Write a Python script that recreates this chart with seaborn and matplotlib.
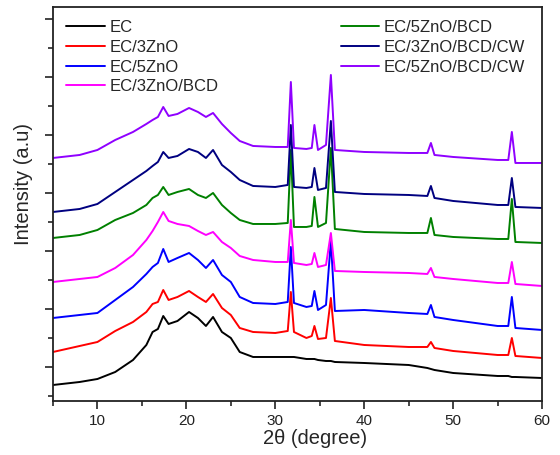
# XRD patterns of EC films with ZnO / BCD / CW, stacked with offsets

import pandas as pd
import matplotlib
matplotlib.use('Agg')
import matplotlib.pyplot as plt
from matplotlib.ticker import MultipleLocator
import seaborn as sns

# 2-theta sampling points (degree)
two_theta = [5, 8, 10, 12, 14, 15.5, 16.2, 16.8, 17.4, 18, 19, 20.3, 21.3, 22.2, 23,
             24, 25, 26, 27.5, 30, 31.4, 31.75, 32.1, 33.5, 34.1, 34.4, 34.8, 35.7,
             36.25, 36.7, 40, 45, 47.1, 47.5, 47.9, 50, 55, 56.2, 56.6, 57.0, 60]

# intensities (a.u., already offset as plotted)
ec = [16, 19, 22, 29, 41, 56, 69, 72, 85, 77, 80, 89, 83, 75, 84, 69, 63, 49, 44, 44,
      44, 44, 44, 42, 42, 42, 41, 40, 40, 39, 38, 36, 33, 32, 31, 28, 25, 25, 24, 24, 23]
ec_3zno = [49, 55, 59, 70, 79, 89, 97, 99, 111, 101, 104, 110, 104, 99, 107, 93, 86, 73, 69, 68,
           70, 109, 69, 63, 65, 75, 62, 63, 103, 60, 56, 54, 54, 59, 53, 50, 46, 46, 63, 45, 43]
ec_5zno = [83, 86, 88, 101, 114, 127, 134, 138, 152, 139, 143, 148, 141, 133, 141, 126, 119, 104, 98, 97,
           99, 154, 98, 94, 95, 110, 91, 96, 160, 90, 91, 88, 87, 96, 84, 81, 75, 75, 104, 73, 71]
ec_3zno_bcd = [119, 122, 124, 133, 146, 161, 170, 179, 189, 180, 177, 175, 170, 166, 169, 159, 153, 145, 141, 139,
               139, 181, 138, 136, 137, 148, 134, 136, 168, 130, 129, 128, 127, 133, 124, 122, 118, 118, 139, 117, 115]
ec_5zno_bcd = [163, 166, 171, 181, 188, 196, 203, 206, 214, 206, 209, 212, 206, 203, 208, 196, 188, 181, 177, 177,
               178, 251, 174, 174, 175, 204, 174, 178, 253, 172, 169, 168, 168, 183, 166, 164, 162, 162, 202, 159, 158]
ec_3zno_bcd_cw = [189, 192, 197, 209, 221, 230, 235, 239, 249, 243, 245, 252, 249, 243, 251, 236, 229, 221, 215, 214,
                  216, 276, 214, 213, 214, 233, 211, 213, 280, 209, 207, 206, 205, 215, 203, 200, 196, 196, 223, 194, 193]
ec_5zno_bcd_cw = [243, 246, 251, 261, 269, 277, 281, 284, 294, 285, 287, 293, 289, 284, 288, 277, 268, 260, 255, 254,
                  254, 319, 253, 252, 253, 276, 251, 256, 326, 251, 249, 248, 248, 258, 246, 244, 241, 241, 269, 238, 238]

labels = ['EC', 'EC/3ZnO', 'EC/5ZnO', 'EC/3ZnO/BCD', 'EC/5ZnO/BCD', 'EC/3ZnO/BCD/CW', 'EC/5ZnO/BCD/CW']
colors = ['#000000', '#ff0000', '#0000ff', '#ff00ff', '#008000', '#000080', '#8f00ff']
series = [ec, ec_3zno, ec_5zno, ec_3zno_bcd, ec_5zno_bcd, ec_3zno_bcd_cw, ec_5zno_bcd_cw]

sns.set_style('ticks')
plt.rcParams['font.family'] = ['Liberation Sans', 'DejaVu Sans']

fig = plt.figure(figsize=(5.6, 4.55), dpi=100)
ax = fig.add_axes([0.0946, 0.1187, 0.8734, 0.866])

for lab, col, vals in zip(labels, colors, series):
    df = pd.DataFrame({'two_theta': two_theta, 'intensity': vals})
    sns.lineplot(data=df, x='two_theta', y='intensity', color=col, linewidth=1.4,
                 label=lab, legend=False, ax=ax)

ax.set_xlim(5, 60)
ax.set_ylim(0, 394)
ax.xaxis.set_major_locator(MultipleLocator(10))
ax.xaxis.set_minor_locator(MultipleLocator(5))
ax.yaxis.set_major_locator(MultipleLocator(58, offset=34))
ax.yaxis.set_minor_locator(MultipleLocator(29, offset=5))
ax.set_yticklabels([])
ax.tick_params(axis='both', which='major', direction='out', length=6, width=1.2,
               labelsize=11, colors='#222222', labelcolor='#222222')
ax.tick_params(axis='both', which='minor', direction='out', length=3.5, width=1.2)
for sp in ax.spines.values():
    sp.set_visible(True)
    sp.set_linewidth(1.3)
    sp.set_color('#222222')

ax.set_xlabel('2θ (degree)', fontsize=14.5)
ax.set_ylabel('Intensity (a.u)', fontsize=14.5)
ax.xaxis.set_label_coords(0.536, -0.072)
ax.yaxis.set_label_coords(-0.04, 0.55)

handles = ax.get_lines()
leg_kw = dict(frameon=False, fontsize=12, handlelength=2.3, handletextpad=0.3,
              labelspacing=0.28, borderaxespad=0.4)
leg1 = ax.legend(handles[:4], labels[:4], loc='upper left', bbox_to_anchor=(0.0, 1.0), **leg_kw)
ax.add_artist(leg1)
ax.legend(handles[4:], labels[4:], loc='upper right', bbox_to_anchor=(0.993, 1.0), **leg_kw)

plt.savefig('out.png', dpi=100)
plt.close()
